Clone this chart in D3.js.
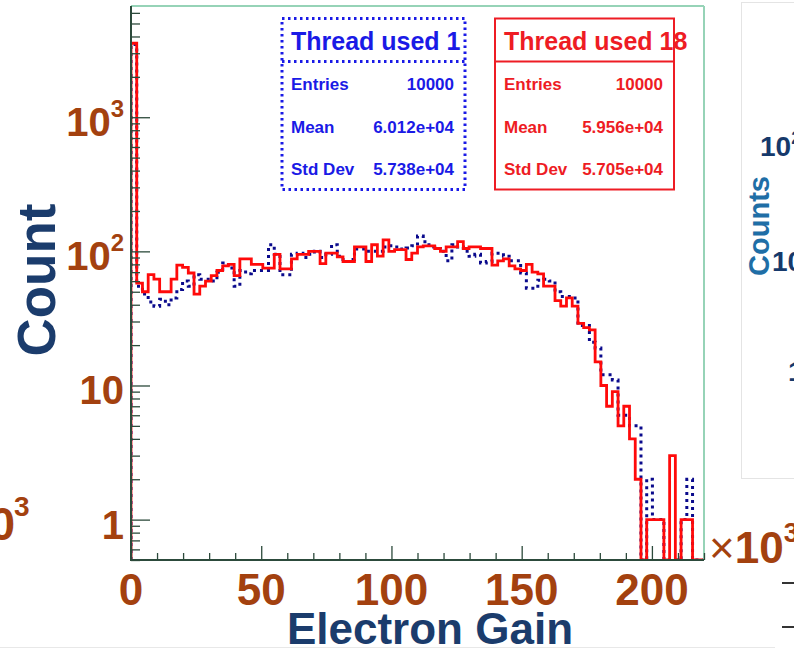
<!DOCTYPE html>
<html><head><meta charset="utf-8">
<script src="https://cdn.jsdelivr.net/npm/d3@7"></script>
<style>
html,body{margin:0;padding:0;background:#fff;}
svg{display:block;font-family:"Liberation Sans",Arial,Helvetica,sans-serif;}
</style></head><body>
<svg id="chart" width="794" height="649"></svg>
<script>
// Electron gain spectra (x in units of 10^3), 100 bins from 0 to 220
const gainRange = [0, 220];
const nBins = 100;

const thread1Counts = [
  3480, 55, 48, 42, 39, 44, 40, 45, 52, 60,
  55, 67, 62, 62, 60, 70, 82, 75, 55, 72,
  68, 72, 72, 72, 112, 95, 67, 67, 95, 97,
  90, 95, 100, 90, 95, 112, 92, 84, 87, 104,
  104, 100, 100, 100, 108, 110, 108, 104, 106, 110,
  130, 118, 108, 105, 100, 85, 112, 108, 100, 92,
  95, 82, 84, 97, 97, 92, 85, 85, 69, 53,
  53, 61, 62, 60, 50, 46, 46, 45, 28, 28,
  21, 19, 12, 12, 11, 6, 6, 5, 5, 0,
  2, 1, 1, 0, 0, 0, 1, 2, 0, 0
];

const thread18Counts = [
  3560, 58, 50, 67, 62, 50, 50, 62, 79, 76,
  69, 48, 55, 60, 66, 72, 78, 80, 66, 88,
  88, 80, 80, 75, 75, 95, 74, 74, 88, 95,
  95, 100, 100, 81, 97, 97, 91, 84, 84, 108,
  108, 84, 112, 92, 122, 100, 103, 103, 87, 97,
  108, 110, 110, 105, 100, 108, 108, 118, 105, 108,
  108, 105, 105, 79, 85, 88, 78, 74, 72, 80,
  70, 68, 55, 55, 43, 39, 45, 39, 29, 27,
  26, 15, 10, 7, 9, 5, 7, 4, 2, 0,
  1, 1, 1, 0, 3, 0, 1, 1, 0, 0
];

const xTickValues = [0, 50, 100, 150, 200];
const yTickValues = [1, 10, 100, 1000];
const yTickBases = ["1", "10", "10", "10"];
const yTickExps = ["", "", "2", "3"];

const statLabels = ["Entries", "Mean", "Std Dev"];
const thread1Stats = ["10000", "6.012e+04", "5.738e+04"];
const thread18Stats = ["10000", "5.956e+04", "5.705e+04"];
const seriesTitles = ["Thread used 1", "Thread used 18"];

const C = {
  label: "#a3410f",
  title: "#1b3c6c",
  axis: "#2c4a3b",
  frame: "#96d3b7",
  red: "#ff0a0a",
  redText: "#ee1c24",
  navy: "#0a0a8c",
  blueText: "#1a1ae6"
};

const svg = d3.select("#chart");
const x = d3.scaleLinear().domain(gainRange).range([131, 704]);
const y = d3.scaleLog().domain([0.5, 6750]).range([560, 6]);
const binW = (gainRange[1] - gainRange[0]) / nBins;

svg.append("defs").append("clipPath").attr("id", "plotClip")
  .append("rect").attr("x", 130).attr("y", 6).attr("width", 575).attr("height", 554);

// histogram outline as steps; empty bins fall to the frame bottom
function stepPoints(counts) {
  const pts = [[x(gainRange[0]), y.range()[0]]];
  counts.forEach((c, i) => {
    const yy = c > 0 ? y(c) : y.range()[0];
    pts.push([x(gainRange[0] + i * binW), yy]);
    pts.push([x(gainRange[0] + (i + 1) * binW), yy]);
  });
  pts.push([x(gainRange[1]), y.range()[0]]);
  return pts;
}
const line = d3.line();

const plot = svg.append("g").attr("clip-path", "url(#plotClip)");
plot.append("path").attr("d", line(stepPoints(thread1Counts)))
  .attr("fill", "none").attr("stroke", C.navy).attr("stroke-width", 3)
  .attr("stroke-dasharray", "3,4");
plot.append("path").attr("d", line(stepPoints(thread18Counts)))
  .attr("fill", "none").attr("stroke", C.red).attr("stroke-width", 2.8)
  .attr("stroke-linejoin", "miter");

// frame: light top/right, dark axes left/bottom
svg.append("line").attr("x1", 131).attr("x2", 704).attr("y1", 6).attr("y2", 6)
  .attr("stroke", C.frame).attr("stroke-width", 2);
svg.append("line").attr("x1", 704).attr("x2", 704).attr("y1", 6).attr("y2", 560)
  .attr("stroke", C.frame).attr("stroke-width", 2);

// y axis ticks (inside the frame)
const yMinor = [];
[0.1, 1, 10, 100, 1000].forEach(d => {
  for (let k = 2; k <= 9; k++) {
    const v = d * k;
    if (v >= 0.5 && v <= 6750) yMinor.push(v);
  }
});
const yAxisMajor = svg.append("g").attr("transform", "translate(131,0)")
  .call(d3.axisRight(y).tickValues(yTickValues).tickSize(19).tickFormat(""));
const yAxisMinor = svg.append("g").attr("transform", "translate(131,0)")
  .call(d3.axisRight(y).tickValues(yMinor).tickSize(9).tickFormat(""));

// x axis ticks (inside the frame)
const xMinor = d3.range(10, 221, 10).filter(v => v % 50 !== 0);
const xAxisMajor = svg.append("g").attr("transform", "translate(0,560)")
  .call(d3.axisTop(x).tickValues(xTickValues).tickSize(14).tickFormat(""));
const xAxisMinor = svg.append("g").attr("transform", "translate(0,560)")
  .call(d3.axisTop(x).tickValues(xMinor).tickSize(7).tickFormat(""));

[yAxisMajor, yAxisMinor, xAxisMajor, xAxisMinor].forEach(g => {
  g.select(".domain").remove();
  g.selectAll(".tick line").attr("stroke", C.axis).attr("stroke-width", 1.3);
});
svg.append("line").attr("x1", 131).attr("x2", 131).attr("y1", 6).attr("y2", 561)
  .attr("stroke", C.axis).attr("stroke-width", 2);
svg.append("line").attr("x1", 130).attr("x2", 704).attr("y1", 560).attr("y2", 560)
  .attr("stroke", C.axis).attr("stroke-width", 2);

// y tick labels
yTickValues.forEach((v, i) => {
  const t = svg.append("text").attr("x", 124).attr("y", y(v) + 19)
    .attr("text-anchor", "end").attr("font-weight", "bold")
    .attr("font-size", 40).attr("fill", C.label);
  t.append("tspan").text(yTickBases[i]);
  if (yTickExps[i]) {
    t.append("tspan").attr("dy", -19).attr("font-size", 24).text(yTickExps[i]);
  }
});

// x tick labels
svg.selectAll("text.xlab").data(xTickValues).enter().append("text")
  .attr("class", "xlab").attr("x", d => x(d)).attr("y", 605)
  .attr("text-anchor", "middle").attr("font-weight", "bold")
  .attr("font-size", 44).attr("fill", C.label).text(d => d);

// axis multiplier
const mult = svg.append("text").attr("x", 709).attr("y", 563)
  .attr("font-size", 44).attr("fill", C.label);
mult.append("tspan").text("\u00d7");
mult.append("tspan").attr("font-weight", "bold").text("10");
mult.append("tspan").attr("font-weight", "bold").attr("font-size", 27).attr("dy", -21).text("3");

// axis titles
svg.append("text").attr("transform", "translate(55,280) rotate(-90)")
  .attr("text-anchor", "middle").attr("font-weight", "bold")
  .attr("font-size", 53).attr("fill", C.title).text("Count");
svg.append("text").attr("x", 430).attr("y", 644)
  .attr("text-anchor", "middle").attr("font-weight", "bold")
  .attr("font-size", 44).attr("fill", C.title).text("Electron Gain");

// statistics boxes
function statBox(x0, x1, title, values, color, dotted) {
  const g = svg.append("g");
  const dash = dotted ? "2.5,3.5" : null;
  g.append("rect").attr("x", x0).attr("y", 18.5).attr("width", x1 - x0).attr("height", 171)
    .attr("fill", "#fff").attr("stroke", color).attr("stroke-width", dotted ? 3 : 2)
    .attr("stroke-dasharray", dash);
  g.append("line").attr("x1", x0).attr("x2", x1).attr("y1", 61.5).attr("y2", 61.5)
    .attr("stroke", color).attr("stroke-width", dotted ? 3 : 2).attr("stroke-dasharray", dash);
  g.append("text").attr("x", x0 + 9).attr("y", 50).attr("font-weight", "bold")
    .attr("font-size", 25).attr("fill", color).text(title);
  const rowsY = [90, 133, 175];
  statLabels.forEach((lab, i) => {
    g.append("text").attr("x", x0 + 9).attr("y", rowsY[i]).attr("font-weight", "bold")
      .attr("font-size", 17).attr("fill", color).text(lab);
    g.append("text").attr("x", x1 - 11).attr("y", rowsY[i]).attr("text-anchor", "end")
      .attr("font-weight", "bold").attr("font-size", 17).attr("fill", color).text(values[i]);
  });
}
statBox(282, 465, seriesTitles[0], thread1Stats, C.blueText, true);
statBox(495, 674, seriesTitles[1], thread18Stats, C.redText, false);

// neighbouring panels at the page edges
svg.append("text").attr("x", 15).attr("y", 540).attr("text-anchor", "end")
  .attr("font-weight", "bold").attr("font-size", 46).attr("fill", C.label).text("10");
svg.append("text").attr("x", 14).attr("y", 516).attr("font-weight", "bold")
  .attr("font-size", 28).attr("fill", C.label).text("3");

svg.append("rect").attr("x", 741.5).attr("y", 2.5).attr("width", 70).attr("height", 476)
  .attr("fill", "none").attr("stroke", "#e4e4e4").attr("stroke-width", 1);
const r1 = svg.append("text").attr("x", 760).attr("y", 156).attr("font-weight", "bold")
  .attr("font-size", 28).attr("fill", "#16396b");
r1.append("tspan").text("10");
r1.append("tspan").attr("dy", -12).attr("font-size", 18).text("2");
svg.append("text").attr("transform", "translate(769,226) rotate(-90)")
  .attr("text-anchor", "middle").attr("font-weight", "bold")
  .attr("font-size", 29).attr("fill", "#1f6ea6").text("Counts");
svg.append("text").attr("x", 772).attr("y", 271).attr("font-weight", "bold")
  .attr("font-size", 28).attr("fill", "#16396b").text("10");
svg.append("text").attr("x", 788).attr("y", 381).attr("font-weight", "bold")
  .attr("font-size", 28).attr("fill", "#16396b").text("1");
[583, 627].forEach(yy => {
  svg.append("line").attr("x1", 782).attr("x2", 794).attr("y1", yy).attr("y2", yy)
    .attr("stroke", "#333").attr("stroke-width", 2);
});
svg.append("line").attr("x1", 0).attr("x2", 775).attr("y1", 647.5).attr("y2", 647.5)
  .attr("stroke", "#e8e8e8").attr("stroke-width", 1);
</script>
</body></html>
